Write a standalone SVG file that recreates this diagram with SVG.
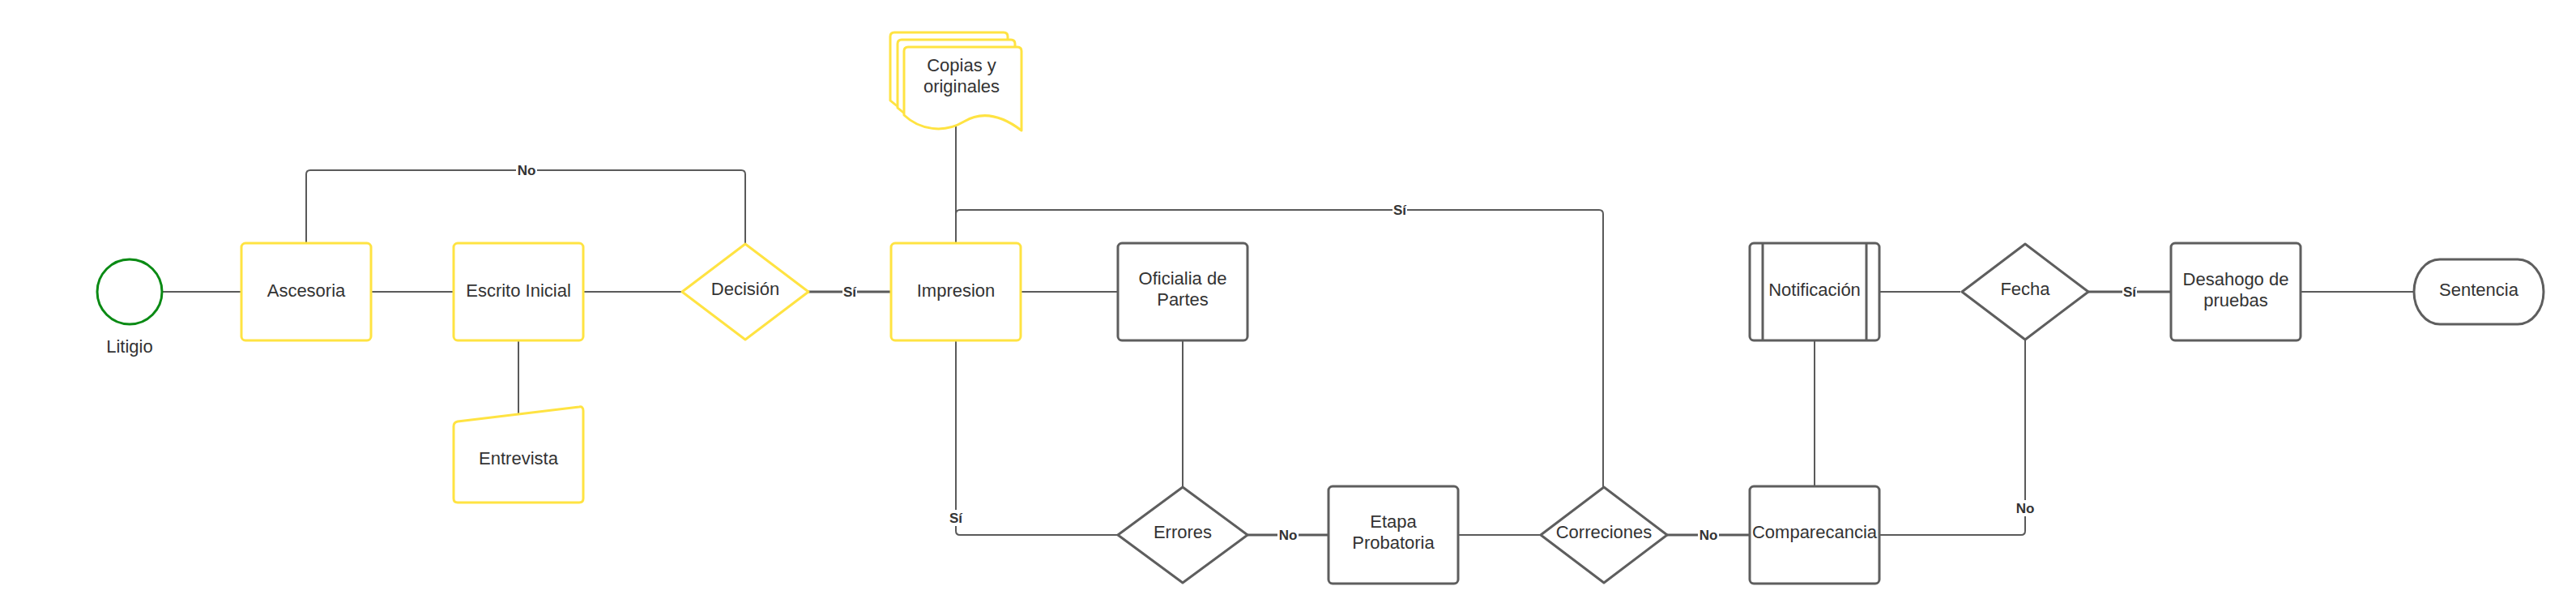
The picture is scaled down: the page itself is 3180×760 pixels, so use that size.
<svg xmlns="http://www.w3.org/2000/svg" width="3180" height="760" viewBox="0 0 3180 760">
<style>
.y{fill:#fff;stroke:#FFE342;stroke-width:3;stroke-linejoin:round}
.g{fill:#fff;stroke:#5E5E5E;stroke-width:3;stroke-linejoin:round}
.c{fill:none;stroke:#5A5A5A;stroke-width:2}
.ct{fill:none;stroke:#5A5A5A;stroke-width:3}
.t{font-family:"Liberation Sans",Arial,sans-serif;font-size:22px;fill:#333;text-anchor:middle}
.l{font-family:"Liberation Sans",Arial,sans-serif;font-size:17px;font-weight:bold;fill:#333;text-anchor:middle}
.bg{fill:#fff}
</style>
<rect width="3180" height="760" fill="#fff"/>
<g id="connectors">
<path class="c" d="M200,360H298"/>
<path class="c" d="M458,360H560"/>
<path class="c" d="M720,360H842"/>
<path class="c" d="M920,302V215Q920,210 915,210H383Q378,210 378,215V300"/>
<path class="ct" d="M998,360H1100"/>
<path class="c" d="M640,420V511"/>
<path class="c" d="M1180,156V300"/>
<path class="c" d="M1180,300V264Q1180,259 1185,259H1974Q1979,259 1979,264V601"/>
<path class="c" d="M1260,360H1380"/>
<path class="c" d="M1460,420V600"/>
<path class="c" d="M1380,660H1185Q1180,660 1180,655V420"/>
<path class="ct" d="M1540,660H1640"/>
<path class="c" d="M1800,660H1902"/>
<path class="ct" d="M2058,660H2160"/>
<path class="c" d="M2240,420V600"/>
<path class="c" d="M2320,360H2420"/>
<path class="c" d="M2500,420V655Q2500,660 2495,660H2320"/>
<path class="ct" d="M2578,360H2680"/>
<path class="c" d="M2840,360H2980"/>
<rect class="bg" x="637" y="200" width="26" height="20"/>
<text class="l" x="650" y="216">No</text>
<rect class="bg" x="1040" y="350" width="18" height="20"/>
<text class="l" x="1049" y="366">Sí</text>
<rect class="bg" x="1719" y="249" width="18" height="20"/>
<text class="l" x="1728" y="265">Sí</text>
<rect class="bg" x="1171" y="629" width="18" height="20"/>
<text class="l" x="1180" y="645">Sí</text>
<rect class="bg" x="1577" y="650" width="26" height="20"/>
<text class="l" x="1590" y="666">No</text>
<rect class="bg" x="2096" y="650" width="26" height="20"/>
<text class="l" x="2109" y="666">No</text>
<rect class="bg" x="2487" y="617" width="26" height="20"/>
<text class="l" x="2500" y="633">No</text>
<rect class="bg" x="2620" y="350" width="18" height="20"/>
<text class="l" x="2629" y="366">Sí</text>
</g>
<g id="litigio">
<circle cx="160" cy="360" r="40" fill="#fff" stroke="#0A8A14" stroke-width="3"/>
<text class="t" x="160" y="435">Litigio</text>
</g>
<g id="ascesoria">
<rect class="y" x="298" y="300" width="160" height="120" rx="5"/>
<text class="t" x="378" y="366">Ascesoria</text>
</g>
<g id="escrito-inicial">
<rect class="y" x="560" y="300" width="160" height="120" rx="5"/>
<text class="t" x="640" y="366">Escrito Inicial</text>
</g>
<g id="entrevista">
<path class="y" d="M565,520L715,502Q720,501 720,507V615Q720,620 715,620H565Q560,620 560,615V526Q560,521 565,520Z"/>
<text class="t" x="640" y="573">Entrevista</text>
</g>
<g id="decision">
<path class="y" d="M920,301L998,360L920,419L842,360Z"/>
<text class="t" x="920" y="364">Decisión</text>
</g>
<g id="copias">
<path class="y" d="M1104,40H1239Q1244,40 1244,45V143C1223,127 1198,117 1173,132C1148,147 1118,142 1099,124V45Q1099,40 1104,40Z"/>
<path class="y" d="M1113,49H1248Q1253,49 1253,54V152C1232,136 1207,126 1182,141C1157,156 1127,151 1108,133V54Q1108,49 1113,49Z"/>
<path class="y" d="M1121,58H1256Q1261,58 1261,63V161C1240,145 1215,135 1190,150C1165,165 1135,160 1116,142V63Q1116,58 1121,58Z"/>
<text class="t" x="1187" y="88">Copias y</text>
<text class="t" x="1187" y="114">originales</text>
</g>
<g id="impresion">
<rect class="y" x="1100" y="300" width="160" height="120" rx="5"/>
<text class="t" x="1180" y="366">Impresion</text>
</g>
<g id="oficialia">
<rect class="g" x="1380" y="300" width="160" height="120" rx="5"/>
<text class="t" x="1460" y="351">Oficialia de</text>
<text class="t" x="1460" y="377">Partes</text>
</g>
<g id="errores">
<path class="g" d="M1460,601L1540,660L1460,719L1380,660Z"/>
<text class="t" x="1460" y="664">Errores</text>
</g>
<g id="etapa-probatoria">
<rect class="g" x="1640" y="600" width="160" height="120" rx="5"/>
<text class="t" x="1720" y="651">Etapa</text>
<text class="t" x="1720" y="677">Probatoria</text>
</g>
<g id="correciones">
<path class="g" d="M1980,601L2058,660L1980,719L1902,660Z"/>
<text class="t" x="1980" y="664">Correciones</text>
</g>
<g id="notificacion">
<rect class="g" x="2160" y="300" width="160" height="120" rx="5"/>
<path class="g" d="M2176,300V420M2304,300V420"/>
<text class="t" x="2240" y="365">Notificación</text>
</g>
<g id="comparecancia">
<rect class="g" x="2160" y="600" width="160" height="120" rx="5"/>
<text class="t" x="2240" y="664">Comparecancia</text>
</g>
<g id="fecha">
<path class="g" d="M2500,301L2578,360L2500,419L2422,360Z"/>
<text class="t" x="2500" y="364">Fecha</text>
</g>
<g id="desahogo">
<rect class="g" x="2680" y="300" width="160" height="120" rx="5"/>
<text class="t" x="2760" y="352">Desahogo de</text>
<text class="t" x="2760" y="378">pruebas</text>
</g>
<g id="sentencia">
<rect class="g" x="2980" y="320" width="160" height="80" rx="32" ry="40"/>
<text class="t" x="3060" y="365">Sentencia</text>
</g>
</svg>
